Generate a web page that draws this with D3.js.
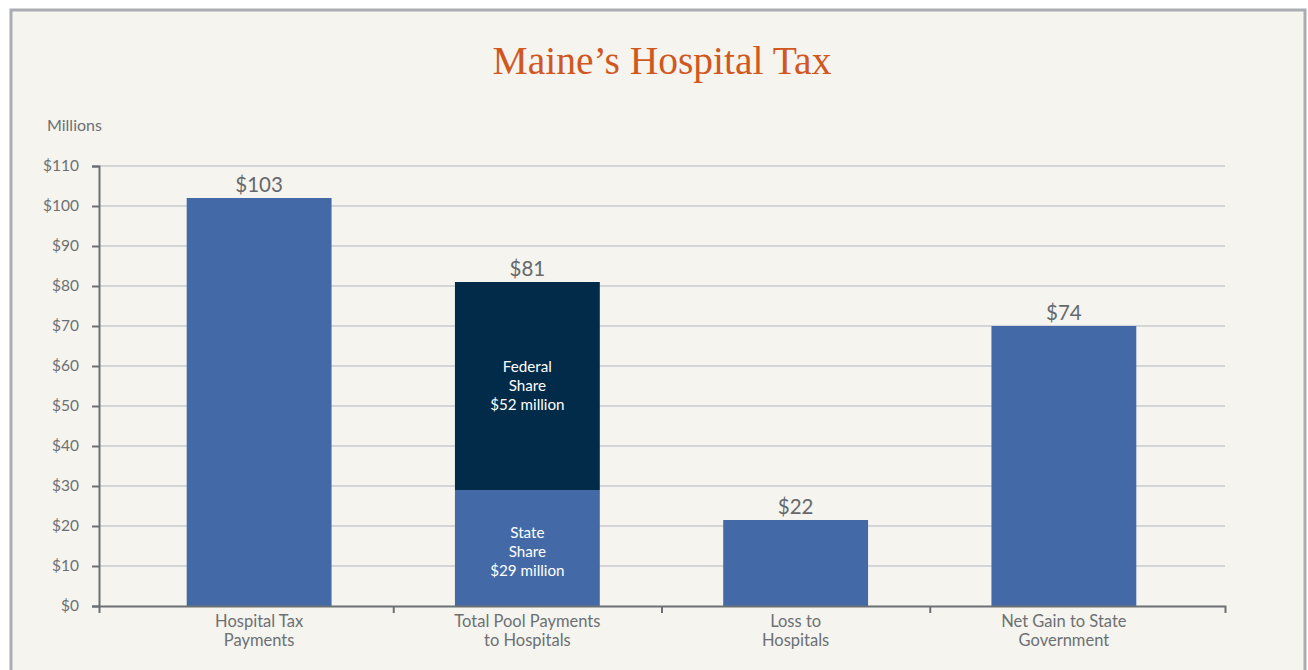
<!DOCTYPE html>
<html>
<head>
<meta charset="utf-8">
<script src="https://cdn.jsdelivr.net/npm/d3@7"></script>
<style>
	body { margin: 0; background: #ffffff; }
	svg { display: block; }
</style>
</head>
<body>
<script>
const categories = ["Hospital Tax|Payments", "Total Pool Payments|to Hospitals", "Loss to|Hospitals", "Net Gain to State|Government"];
// bar heights as drawn (millions)
const baseValues = [102, 29, 21.5, 70];
const federalValues = [0, 52, 0, 0];
const valueLabels = ["$103", "$81", "$22", "$74"];
const yTicks = [0, 10, 20, 30, 40, 50, 60, 70, 80, 90, 100, 110];
const stateText = ["State", "Share", "$29 million"];
const federalText = ["Federal", "Share", "$52 million"];

const width = 1308;
const height = 670;
const grey = "#6c7074";

const svg = d3.select("body")
	.append("svg")
	.attr("width", width)
	.attr("height", height);

// panel + frame
svg.append("rect")
	.attr("x", 11)
	.attr("y", 10)
	.attr("width", 1294)
	.attr("height", 680)
	.attr("fill", "#f5f4ee")
	.attr("stroke", "#a9adb1")
	.attr("stroke-width", 3);

svg.append("text")
	.attr("x", 662)
	.attr("y", 74)
	.attr("text-anchor", "middle")
	.attr("font-family", "Liberation Serif, serif")
	.attr("font-size", 39.5)
	.attr("fill", "#d0581f")
	.text("Maine\u2019s Hospital Tax");

svg.append("text")
	.attr("x", 47)
	.attr("y", 131)
	.attr("font-family", "Lato, sans-serif")
	.attr("font-size", 16)
	.attr("fill", grey)
	.text("Millions");

const scaleY = d3.scaleLinear().domain([0, 110]).range([606, 166]);
const scaleX = d3.scaleBand()
	.domain(categories)
	.range([125, 1198])
	.paddingInner(0.46)
	.paddingOuter(0.23);

// gridlines
svg.append("g")
	.selectAll("line")
	.data(yTicks.slice(1))
	.join("line")
	.attr("x1", 99)
	.attr("x2", 1225)
	.attr("y1", d => scaleY(d))
	.attr("y2", d => scaleY(d))
	.attr("stroke", "#d4d5d7")
	.attr("stroke-width", 2);

// bars
svg.append("g")
	.selectAll("rect")
	.data(categories)
	.join("rect")
	.attr("x", d => scaleX(d))
	.attr("width", scaleX.bandwidth())
	.attr("y", (d, i) => scaleY(baseValues[i]))
	.attr("height", (d, i) => scaleY(0) - scaleY(baseValues[i]))
	.attr("fill", "#436aa7");

svg.append("g")
	.selectAll("rect")
	.data(categories.filter((d, i) => federalValues[i] > 0))
	.join("rect")
	.attr("x", d => scaleX(d))
	.attr("width", scaleX.bandwidth())
	.attr("y", d => {
		const i = categories.indexOf(d);
		return scaleY(baseValues[i] + federalValues[i]);
	})
	.attr("height", d => {
		const i = categories.indexOf(d);
		return scaleY(baseValues[i]) - scaleY(baseValues[i] + federalValues[i]);
	})
	.attr("fill", "#022a49");

// value labels
svg.append("g")
	.selectAll("text")
	.data(categories)
	.join("text")
	.attr("x", d => scaleX(d) + scaleX.bandwidth() / 2)
	.attr("y", (d, i) => scaleY(baseValues[i] + federalValues[i]) - 6)
	.attr("text-anchor", "middle")
	.attr("font-family", "Lato, sans-serif")
	.attr("font-size", 20.5)
	.attr("fill", "#65696d")
	.text((d, i) => valueLabels[i]);

// inner labels of the stacked bar
function innerLabel(lines, centerValue) {
	const cat = categories[1];
	const t = svg.append("text")
		.attr("text-anchor", "middle")
		.attr("font-family", "Lato, sans-serif")
		.attr("font-size", 15.2)
		.attr("fill", "#ffffff");
	lines.forEach((line, j) => {
		t.append("tspan")
			.attr("x", scaleX(cat) + scaleX.bandwidth() / 2)
			.attr("y", scaleY(centerValue) + 5 + (j - 1) * 19)
			.text(line);
	});
}
innerLabel(federalText, baseValues[1] + federalValues[1] / 2);
innerLabel(stateText, baseValues[1] / 2 - 1);

// y axis
const axisY = d3.axisLeft(scaleY)
	.tickValues(yTicks)
	.tickSize(7)
	.tickPadding(13)
	.tickFormat(d => "$" + d);

svg.append("g")
	.attr("class", "scale-y")
	.attr("transform", "translate(99,0)")
	.call(axisY)
	.call(g => {
		g.selectAll("path, line").attr("stroke", grey).attr("stroke-width", 2);
		g.selectAll("text")
			.attr("font-family", "Lato, sans-serif")
			.attr("font-size", 15.5)
			.attr("fill", grey);
	});

// x axis: ticks at band boundaries
const step = scaleX.step();
const boundaries = categories.slice(0, -1).map(d => scaleX(d) + scaleX.bandwidth() + (step - scaleX.bandwidth()) / 2);
const axisX = d3.axisBottom(d3.scaleIdentity().domain([99, 1225]))
	.tickValues(boundaries)
	.tickSize(7)
	.tickFormat("");

svg.append("g")
	.attr("class", "scale-x")
	.attr("transform", "translate(0,606)")
	.call(axisX)
	.call(g => g.selectAll("path, line").attr("stroke", grey).attr("stroke-width", 2));

// category labels
svg.append("g")
	.selectAll("text")
	.data(categories)
	.join("text")
	.attr("text-anchor", "middle")
	.attr("font-family", "Lato, sans-serif")
	.attr("font-size", 16.5)
	.attr("fill", grey)
	.each(function(d) {
		const parts = d.split("|");
		parts.forEach((p, j) => {
			d3.select(this).append("tspan")
				.attr("x", scaleX(d) + scaleX.bandwidth() / 2)
				.attr("y", 627 + j * 19)
				.text(p);
		});
	});
</script>
</body>
</html>
